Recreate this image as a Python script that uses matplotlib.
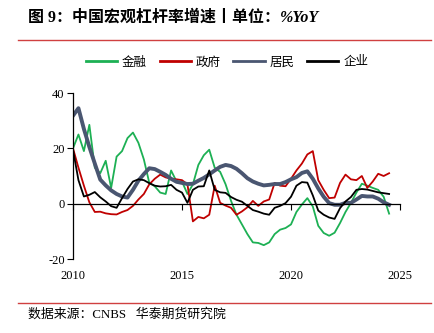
import matplotlib.pyplot as plt
import matplotlib.lines as mlines
import numpy as np
import pandas as pd

# quarterly data 2010Q1 - 2024Q3, % YoY
quarters = pd.period_range('2010Q1', '2024Q3', freq='Q')

finance = [20, 25, 19, 28.5, 13, 11, 15.5, 5.7, 17, 19,
           23.7, 25.7, 22, 16, 7.5, 6.3, 4, 3.5, 12, 8,
           8, 3.5, 7, 14, 17.5, 19.5, 13, 11.5, 7, 1,
           -4, -7.5, -11, -14, -14.2, -15, -14, -11, -9.4, -8.8,
           -7.5, -3, -0.3, 2, -1, -8, -10.6, -11.6, -10.5, -7,
           -3, 0.3, 4, 7.2, 6.5, 5.7, 5, 2.5, -3.6]
gov = [20, 13, 6.5, 0.5, -3, -2.9, -3.5, -3.8, -3.9, -3,
       -2.3, -0.8, 1.5, 3.5, 7, 9, 10.5, 9.5, 9, 8.8,
       8.5, 7, -6.4, -4.8, -5.3, -4, 6.5, 0.3, -0.7, -1.5,
       -4, -2.8, -1.3, 1, -0.8, 0.8, 1.5, 7.5, 6.5, 6.3,
       9, 12, 14.5, 17.8, 19, 8.5, 5, 2, 2.2, 7.5,
       10.5, 8.8, 8.5, 10, 5.7, 8, 10.8, 10, 11]
household = [31.8, 34.5, 27, 20.5, 14.5, 8.7, 6.6, 4.8, 3.5, 2.6,
             2.2, 5, 8.3, 10.7, 12.8, 12.5, 11.5, 10.4, 9, 7.9,
             7.5, 7.1, 7.2, 8.3, 9.3, 10.6, 12, 13.3, 14, 13.6,
             12.6, 11, 9.2, 8, 7.2, 6.6, 6.8, 7.1, 7.1, 7.8,
             8.8, 9.6, 11.1, 11.7, 9, 5.5, 2.5, 0.2, -0.4, -0.4,
             0.3, 0.3, 1.5, 2.8, 2.6, 2.6, 1.8, 0.5, -0.4]
corp = [19.5, 8.5, 2.6, 3.2, 4.2, 2.3, 0.8, -0.9, -1.5, 2,
        5.3, 8, 8.8, 8.5, 7.4, 6.5, 6.2, 6.3, 6.8, 5,
        4, 0.3, 5, 6.2, 6.3, 12, 5, 4.1, 3.9, 2.4,
        1.4, 0.7, -0.8, -2.3, -2.9, -3.6, -4, -1.5, -0.8, 0.2,
        2.5, 6.5, 7.8, 7.6, 3, -2.5, -4, -5, -5.5, -1.6,
        0.8, 2.4, 5, 5.3, 5.1, 4.6, 4.1, 3.8, 3.5]

series_names = ['金融', '政府', '居民', '企业']
series_colors = ['#1db054', '#c00000', '#4a5671', '#000000']
series_widths = [1.3, 1.3, 2.8, 1.3]

x_ticks = [2010, 2015, 2020, 2025]
y_ticks = [-20, 0, 20, 40]

cjk = ['Noto Sans CJK SC', 'DejaVu Sans']
mixed = ['Liberation Serif', 'Noto Sans CJK SC']

x = np.array([q.year + (q.quarter - 1) / 4 for q in quarters])

fig = plt.figure(figsize=(4.35, 3.33), dpi=100)
ax = fig.add_axes([73/435, 1-259/333, 327/435, 166/333])

for vals, name, c, lw in zip([finance, gov, household, corp], series_names,
                             series_colors, series_widths):
    ax.plot(x, vals, color=c, lw=lw, label=name)

ax.set_xlim(2010, 2025)
ax.set_ylim(-20, 40)
ax.set_yticks(y_ticks)
ax.set_yticklabels([str(v) for v in y_ticks], family='Liberation Serif', fontsize=9)
ax.set_xticks(x_ticks)
ax.tick_params(axis='y', direction='out', length=4, width=0.8, pad=2)
ax.tick_params(axis='x', direction='out', length=4, width=0.8, labelbottom=False)
for s in ['top', 'right']:
    ax.spines[s].set_visible(False)
ax.spines['bottom'].set_position(('data', 0))
ax.spines['left'].set_linewidth(0.9)
ax.spines['bottom'].set_linewidth(0.9)

# year labels under the plot
sec = ax.secondary_xaxis(0)
sec.set_xticks(x_ticks)
sec.set_xticklabels([str(v) for v in x_ticks], family='Liberation Serif', fontsize=9)
sec.tick_params(length=0, pad=8)
sec.spines['bottom'].set_visible(False)

leg = fig.legend(loc='center', bbox_to_anchor=(0.522, 1-62/333), ncol=4, frameon=False,
                 prop={'family': cjk, 'size': 9}, handlelength=2.5,
                 handletextpad=0.4, columnspacing=1.0)
for h in leg.get_lines():
    h.set_linewidth(2.0)

title = fig.text(28/435, 1-18/333, '图 9：中国宏观杠杆率增速丨单位：', family=mixed,
                 fontsize=11.5, fontweight='bold', va='center', ha='left')
fig.canvas.draw()
bb = title.get_window_extent().transformed(fig.transFigure.inverted())
fig.text(bb.x1, 1-18/333, '%YoY', family='Liberation Serif', fontsize=11.5,
         fontweight='bold', style='italic', va='center', ha='left')
fig.text(28/435, 1-314/333, '数据来源：CNBS   华泰期货研究院', family=mixed,
         fontsize=9.3, va='center', ha='left')

for yy in [40, 303]:
    fig.add_artist(mlines.Line2D([18/435, 431/435], [1-yy/333]*2,
                                 color='#d04040', lw=1.0))

fig.savefig('out.png', dpi=100)
